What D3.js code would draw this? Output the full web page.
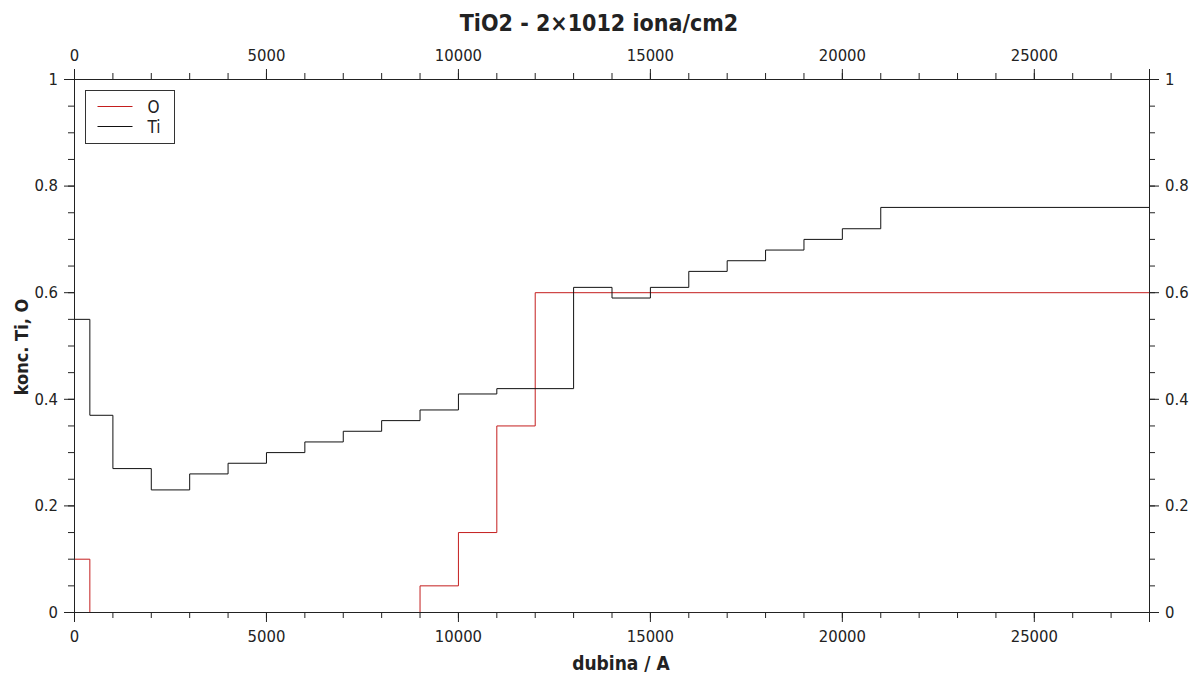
<!DOCTYPE html>
<html>
<head>
<meta charset="utf-8">
<script src="https://cdn.jsdelivr.net/npm/d3@7"></script>
<style>
  body { margin: 0; background: #fff; }
  svg { display: block; }
  text { font-family: "DejaVu Sans Condensed", "DejaVu Sans", sans-serif; fill: #222; }
</style>
</head>
<body>
<svg id="chart" width="1193" height="677"></svg>
<script>
// granice slojeva (dubina, A) i koncentracije
const tiDepth = [0, 400, 1000, 2000, 3000, 4000, 5000, 6000, 7000, 8000, 9000, 10000, 11000, 13000, 14000, 15000, 16000, 17000, 18000, 19000, 20000, 21000, 28000];
const tiConc  = [0.55, 0.37, 0.27, 0.23, 0.26, 0.28, 0.30, 0.32, 0.34, 0.36, 0.38, 0.41, 0.42, 0.61, 0.59, 0.61, 0.64, 0.66, 0.68, 0.70, 0.72, 0.76, 0.76];
const oDepth  = [0, 400, 9000, 10000, 11000, 12000, 28000];
const oConc   = [0.10, 0, 0.05, 0.15, 0.35, 0.60, 0.60];

const xTicks = [0, 5000, 10000, 15000, 20000, 25000];
const yTicks = [0, 0.2, 0.4, 0.6, 0.8, 1];

const series = [
  { name: "O", color: "#c41e1e", depth: oDepth, conc: oConc },
  { name: "Ti", color: "#111", depth: tiDepth, conc: tiConc }
];

const svg = d3.select("#chart");
const m = { left: 74, right: 1149, top: 79, bottom: 612 };

const x = d3.scaleLinear().domain([0, 28000]).range([m.left, m.right]);
const y = d3.scaleLinear().domain([0, 1]).range([m.bottom, m.top]);

const minorX = d3.range(0, 28001, 1000);
const minorY = d3.range(0, 1.0001, 0.05);

// linije prvo, osi preko njih (pomak 0.5 kao kod d3 osi -> O na nuli je skriven)
const line = d3.line()
  .x(d => x(d[0]))
  .y(d => y(d[1]))
  .curve(d3.curveStepAfter);

const plot = svg.append("g").attr("transform", "translate(0.5,0.5)");
series.forEach(s => {
  plot.append("path")
    .datum(d3.zip(s.depth, s.conc))
    .attr("fill", "none")
    .attr("stroke", s.color)
    .attr("stroke-width", 1)
    .attr("d", line);
});

function styleAxis(g) {
  g.selectAll("path.domain").attr("stroke", "#222");
  g.selectAll(".tick line").attr("stroke", "#222");
  g.selectAll(".tick text").style("font-size", "16.5px").attr("fill", "#222");
}

// minor ticks
svg.append("g").attr("transform", `translate(0,${m.bottom})`)
  .call(d3.axisBottom(x).tickValues(minorX).tickSize(6).tickFormat(""))
  .call(styleAxis);
svg.append("g").attr("transform", `translate(0,${m.top})`)
  .call(d3.axisTop(x).tickValues(minorX).tickSize(6).tickFormat(""))
  .call(styleAxis);
svg.append("g").attr("transform", `translate(${m.left},0)`)
  .call(d3.axisLeft(y).tickValues(minorY).tickSize(6).tickFormat(""))
  .call(styleAxis);
svg.append("g").attr("transform", `translate(${m.right},0)`)
  .call(d3.axisRight(y).tickValues(minorY).tickSize(6).tickFormat(""))
  .call(styleAxis);

// major ticks + labels
svg.append("g").attr("transform", `translate(0,${m.bottom})`)
  .call(d3.axisBottom(x).tickValues(xTicks).tickSize(10).tickPadding(8).tickFormat(d3.format("d")))
  .call(styleAxis);
svg.append("g").attr("transform", `translate(0,${m.top})`)
  .call(d3.axisTop(x).tickValues(xTicks).tickSize(10).tickPadding(8).tickFormat(d3.format("d")))
  .call(styleAxis);
svg.append("g").attr("transform", `translate(${m.left},0)`)
  .call(d3.axisLeft(y).tickValues(yTicks).tickSize(10).tickPadding(6).tickFormat(d3.format("~g")))
  .call(styleAxis);
svg.append("g").attr("transform", `translate(${m.right},0)`)
  .call(d3.axisRight(y).tickValues(yTicks).tickSize(10).tickPadding(6).tickFormat(d3.format("~g")))
  .call(styleAxis);

// naslovi
svg.append("text")
  .attr("x", 599).attr("y", 31)
  .attr("text-anchor", "middle")
  .style("font-size", "23px").style("font-weight", "bold")
  .text("TiO2 - 2×1012 iona/cm2");

svg.append("text")
  .attr("x", 621).attr("y", 670)
  .attr("text-anchor", "middle")
  .style("font-size", "19px").style("font-weight", "bold")
  .text("dubina / A");

svg.append("text")
  .attr("transform", "translate(28,347) rotate(-90)")
  .attr("text-anchor", "middle")
  .style("font-size", "18px").style("font-weight", "bold")
  .text("konc. Ti, O");

// legenda
const leg = svg.append("g").attr("transform", "translate(85.5,90.5)");
leg.append("rect")
  .attr("width", 89).attr("height", 53)
  .attr("fill", "#fff").attr("stroke", "#333");
series.forEach((s, i) => {
  const ly = 16 + i * 20;
  leg.append("line")
    .attr("x1", 12).attr("x2", 47).attr("y1", ly).attr("y2", ly)
    .attr("stroke", s.color).attr("stroke-width", 1);
  leg.append("text")
    .attr("x", 62).attr("y", ly + 6)
    .style("font-size", "17px")
    .text(s.name);
});
</script>
</body>
</html>
